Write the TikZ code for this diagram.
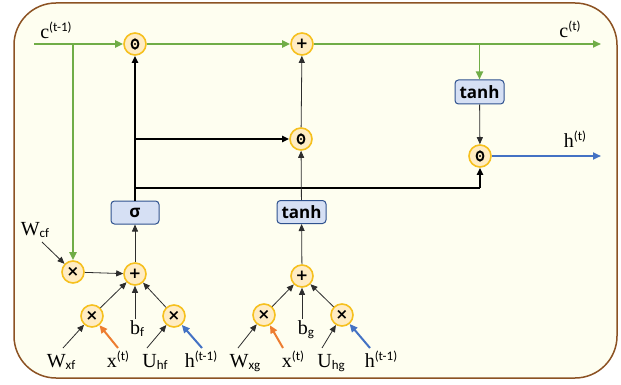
\documentclass[tikz,border=0pt]{standalone}
\usepackage{fontspec}
\setmainfont{Liberation Serif}
\newfontfamily\subf{Carlito}
\newfontfamily\opf{DejaVu Sans}
\newfontfamily\boxf{Open Sans}
\usetikzlibrary{arrows.meta}
\definecolor{bgc}{RGB}{254,254,240}
\definecolor{framec}{RGB}{140,82,35}
\definecolor{cfill}{RGB}{255,236,195}
\definecolor{cdraw}{RGB}{246,192,30}
\definecolor{bfill}{RGB}{214,224,244}
\definecolor{bdraw}{RGB}{47,82,143}
\definecolor{gr}{RGB}{112,173,71}
\definecolor{bl}{RGB}{68,114,196}
\definecolor{orn}{RGB}{237,125,49}
\definecolor{thinc}{RGB}{45,45,45}
\newcommand\myup[1]{\raisebox{7pt}{\subf\fontsize{13}{13}\selectfont #1}}
\newcommand\mydn[1]{\raisebox{-2pt}{\subf\fontsize{13}{13}\selectfont #1}}
\begin{document}
\begin{tikzpicture}[x=1pt,y=-1pt,
  op/.style={circle,draw=cdraw,fill=cfill,line width=1.6pt,minimum size=22pt,inner sep=0pt,
    font=\opf\bfseries\fontsize{15}{15}\selectfont},
  hada/.style={op,path picture={
    \draw[draw=black,line width=1.9pt] (path picture bounding box.center) ellipse (3.4pt and 4.6pt);
    \fill[black] (path picture bounding box.center) circle (1.1pt);}},
  fbox/.style={draw=bdraw,fill=bfill,rounded corners=3.5pt,line width=1pt,inner sep=0pt,
    minimum height=23pt,font=\boxf\bfseries\fontsize{17}{17}\selectfont},
  lbl/.style={anchor=base,inner sep=0pt,font=\fontsize{20}{20}\selectfont},
  thinarr/.style={draw=thinc,line width=0.8pt,-{Triangle[length=7pt,width=6pt]}},
  thickarr/.style={draw=black,line width=1.9pt,-{Triangle[length=7pt,width=6pt]}},
  thickln/.style={draw=black,line width=1.9pt},
  grarr/.style={draw=gr,line width=1.9pt,-{Triangle[length=8pt,width=7pt]}},
  blarr/.style={draw=bl,line width=2pt,-{Triangle[length=8pt,width=7pt]}},
  orarr/.style={draw=orn,line width=2pt,-{Triangle[length=8pt,width=7pt]}},
]
\useasboundingbox (0,0) rectangle (621,385);
\draw[draw=framec,fill=bgc,line width=1.5pt,rounded corners=42pt] (14,3) rectangle (617,378);

% operators
\node[hada] (o1) at (135,44) {};
\node[op] (pc) at (302,44) {+};
\node[hada] (o2) at (301,139) {};
\node[hada] (o3) at (480,156) {};
\node[op] (mcf) at (73,272) {×};
\node[op] (pf) at (135,274) {+};
\node[op] (mxf) at (92,316) {×};
\node[op] (mhf) at (174,316) {×};
\node[op] (pg) at (302,276) {+};
\node[op] (mxg) at (264,315) {×};
\node[op] (mhg) at (342,315) {×};

% boxes
\node[fbox,minimum width=48pt] (sig) at (135,212.5) {σ};
\node[fbox,minimum width=49pt] (tg) at (301.5,212) {tanh};
\node[fbox,minimum width=49pt,minimum height=24pt] (tc) at (479.5,92) {tanh};

% labels
\node[lbl] (cprev) at (56,39) {c\myup{(t-1)}};
\node[lbl] (cnext) at (570,38) {c\myup{(t)}};
\node[lbl] (hnext) at (575,148) {h\myup{(t)}};
\node[lbl] (Wcf) at (35,235) {W\mydn{cf}};
\node[lbl] (Wxf) at (61,367) {W\mydn{xf}};
\node[lbl] (x1) at (118,367) {x\myup{(t)}};
\node[lbl] (Uhf) at (155,367) {U\mydn{hf}};
\node[lbl] (h1) at (201,367) {h\myup{(t-1)}};
\node[lbl] (bf) at (137,334) {b\mydn{f}};
\node[lbl] (Wxg) at (245,367) {W\mydn{xg}};
\node[lbl] (x2) at (293,367) {x\myup{(t)}};
\node[lbl] (Uhg) at (331,367) {U\mydn{hg}};
\node[lbl] (h2) at (381,367) {h\myup{(t-1)}};
\node[lbl] (bg) at (306,334) {b\mydn{g}};

% free ends
\coordinate (cs) at (34,44);
\coordinate (ce) at (601,44);
\coordinate (he) at (601,156);
\coordinate (j) at (135,188);
\coordinate (tWcf) at (42,242);
\coordinate (tWxf) at (63,348);
\coordinate (tx1) at (118,348);
\coordinate (tUhf) at (147,348);
\coordinate (th1) at (202,348);
\coordinate (tbf) at (135,319);
\coordinate (tWxg) at (238,348);
\coordinate (tx2) at (283,348);
\coordinate (tUhg) at (322,348);
\coordinate (th2) at (370,348);
\coordinate (tbg) at (302,319);

% cell state line
\draw[grarr] (cs) -- (o1);
\draw[grarr] (o1) -- (pc);
\draw[grarr] (pc) -- (ce);
\draw[grarr] (tc |- pc) -- (tc);
\draw[grarr] (mcf |- cs) -- (mcf);

% output
\draw[thinarr] (tc) -- (o3);
\draw[blarr] (o3) -- (he);

% gate outputs
\draw[thickarr] (sig) -- (o1);
\draw[thickarr] (sig |- o2) -- (o2);
\draw[thickln] (j) -- (o3 |- j);
\draw[thickarr] (o3 |- j) -- (o3);
\draw[thinarr] (tg) -- (o2);
\draw[thinarr] (o2) -- (pc);

% forget gate inputs
\draw[thinarr] (pf) -- (sig);
\draw[thinarr] (mcf) -- (pf);
\draw[thinarr] (mxf) -- (pf);
\draw[thinarr] (mhf) -- (pf);
\draw[thinarr] (tbf) -- (pf);
\draw[thinarr] (tWcf) -- (mcf);
\draw[thinarr] (tWxf) -- (mxf);
\draw[orarr] (tx1) -- (mxf);
\draw[thinarr] (tUhf) -- (mhf);
\draw[blarr] (th1) -- (mhf);

% candidate inputs
\draw[thinarr] (pg) -- (tg);
\draw[thinarr] (mxg) -- (pg);
\draw[thinarr] (mhg) -- (pg);
\draw[thinarr] (tbg) -- (pg);
\draw[thinarr] (tWxg) -- (mxg);
\draw[orarr] (tx2) -- (mxg);
\draw[thinarr] (tUhg) -- (mhg);
\draw[blarr] (th2) -- (mhg);
\end{tikzpicture}
\end{document}
